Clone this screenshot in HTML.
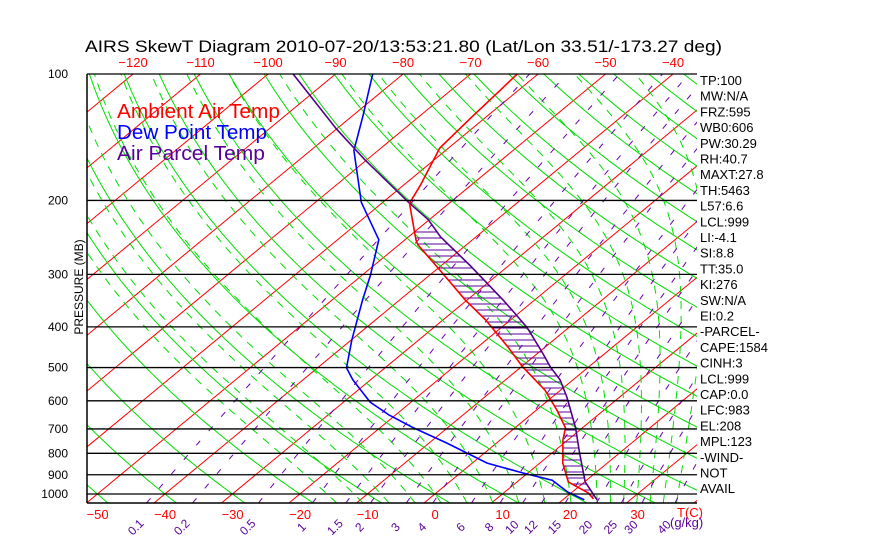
<!DOCTYPE html>
<html><head><meta charset="utf-8"><style>
html,body{margin:0;padding:0;background:#fff;}
svg{display:block;font-family:"Liberation Sans",sans-serif;}
</style></head><body>
<svg id="chart" width="870" height="560" viewBox="0 0 870 560" xmlns="http://www.w3.org/2000/svg">
<defs><clipPath id="plotclip"><rect x="87" y="74" width="610" height="429"/></clipPath></defs>
<rect x="0" y="0" width="870" height="560" fill="#fff"/>
<text x="85" y="52" font-size="17" textLength="637" lengthAdjust="spacingAndGlyphs" fill="#000">AIRS SkewT Diagram 2010-07-20/13:53:21.80 (Lat/Lon 33.51/-173.27 deg)</text>
<g id="grid" clip-path="url(#plotclip)"></g>
<g id="series" clip-path="url(#plotclip)"></g>
<g id="frame"></g>
<g id="labels"></g>
<text x="117" y="118" font-size="20" textLength="163" lengthAdjust="spacingAndGlyphs" fill="#ff0000">Ambient Air Temp</text>
<text x="117" y="139" font-size="20" textLength="150" lengthAdjust="spacingAndGlyphs" fill="#0000ff">Dew Point Temp</text>
<text x="117" y="160" font-size="20" textLength="148" lengthAdjust="spacingAndGlyphs" fill="#5a0099">Air Parcel Temp</text>
<text transform="translate(83,287) rotate(-90)" text-anchor="middle" font-size="12" fill="#000">PRESSURE (MB)</text>
<text x="677" y="517" font-size="13" fill="#ff0000">T(C)</text>
<text x="670" y="527" font-size="13" fill="#5a0099">(g/kg)</text>
</svg>
<script>
const ambientP=[1028,995,936,844,744,696,631,597,566,498,447,385,345,293,255,248,217,203,184,150,127,109,100];
const ambientT=[24.4,22.6,17.6,13.4,9.3,7.5,3.0,0.3,-2.3,-9.8,-15.5,-23.7,-30.3,-39.4,-47.2,-48.4,-53.4,-55.9,-57.5,-61.3,-62.1,-62.7,-63.1];
const dewP=[1033,989,927,891,844,756,696,649,604,535,501,430,345,301,248,202,152,126,100];
const dewT=[23.2,19.3,14.9,9.2,2.2,-7.4,-15.0,-20.9,-26.1,-32.6,-35.7,-39.9,-45.5,-48.8,-53.9,-63.2,-73.6,-78.4,-84.5];
const parcelP=[1033,936,799,696,588,535,498,459,402,371,345,285,244,222,203,160,135,100];
const parcelT=[25.1,20.1,14.1,9.0,2.2,-1.9,-5.7,-9.6,-16.1,-20.6,-24.7,-35.9,-45.3,-50.2,-55.9,-70.3,-80.1,-96.3];
const pressureTicks=[100,200,300,400,500,600,700,800,900,1000];
const bottomTempTicks=[-50,-40,-30,-20,-10,0,10,20,30];
const topTempTicks=[-120,-110,-100,-90,-80,-70,-60,-50,-40];
const mixRatios=[0.1,0.2,0.5,1,1.5,2,3,4,6,8,10,12,15,20,25,30,40];
const mixLabels=["0.1","0.2","0.5","1","1.5","2","3","4","6","8","10","12","15","20","25","30","40"];
const dryTheta=[-50,-40,-30,-20,-10,0,10,20,30,40,50,60,70,80,90,100,110,120,130,140,150,160,170,180,190];
const moistTheta=[-16,-12,-8,-4,0,4,8,12,16,20,24,26,28,30,32,34,36];
const sideLabels=["TP:100","MW:N/A","FRZ:595","WB0:606","PW:30.29","RH:40.7","MAXT:27.8","TH:5463","L57:6.6","LCL:999","LI:-4.1","SI:8.8","TT:35.0","KI:276","SW:N/A","EI:0.2","-PARCEL-","CAPE:1584","CINH:3","LCL:999","CAP:0.0","LFC:983","EL:208","MPL:123","-WIND-","NOT","AVAIL"];

const NS="http://www.w3.org/2000/svg";
const PB=1050, PT=100;
function yOf(p){return 494+182.4*Math.log(p/1000);}
function xOf(T,p){return 424+6.75*T+1.21*(503-yOf(p));}
function mk(tag,attrs,parent){const e=document.createElementNS(NS,tag);for(const k in attrs)e.setAttribute(k,attrs[k]);parent.appendChild(e);return e;}
function pathD(pts){return pts.map((q,i)=>(i?'L':'M')+q[0].toFixed(1)+','+q[1].toFixed(1)).join('');}
const grid=document.getElementById('grid'),series=document.getElementById('series'),frame=document.getElementById('frame'),labels=document.getElementById('labels');

for(let T=-160;T<=50;T+=10){
  const e=mk('line',{x1:xOf(T,PB),y1:yOf(PB),x2:xOf(T,PT),y2:yOf(PT),stroke:'#ff0000','stroke-width':1},grid);
  
  
}
dryTheta.forEach(th=>{
  const pts=[];for(let p=PB;p>=PT;p-=10){const T=(th+273.15)*Math.pow(p/1000,0.2857)-273.15;pts.push([xOf(T,p),yOf(p)]);}
  const e=mk('path',{d:pathD(pts),fill:'none',stroke:'#00dd00','stroke-width':1},grid);
  
  
});
function es(Tc){return 6.112*Math.exp(17.67*Tc/(Tc+243.5));}
function dTdp(T,p){const Tc=T-273.15;const e=es(Tc);const rs=0.622*e/(p-e);return (287*T+2.5e6*rs)/(p*(1004+2.5e6*2.5e6*rs*0.622/(287*T*T)));}
moistTheta.forEach(tw=>{
  let pts=[];let T=tw+273.15;
  for(let p=1000;p<PB;p+=5){T+=dTdp(T,p)*5;}
  for(let p=PB;p>=PT;p-=5){pts.push([xOf(T-273.15,p),yOf(p)]);T-=dTdp(T,p)*5;}
  const e=mk('path',{d:pathD(pts),fill:'none',stroke:'#00dd00','stroke-width':1,'stroke-dasharray':'8 7'},grid);
  
  
});
function tdOf(w,p){const e=w*p/(622+w);const l=Math.log(e/6.112);return 243.5*l/(17.67-l);}
mixRatios.forEach((w,i)=>{
  const pts=[];for(let p=PB;p>=PT;p-=10)pts.push([xOf(tdOf(w,p),p),yOf(p)]);
  const e=mk('path',{d:pathD(pts),fill:'none',stroke:'#6a00b0','stroke-width':1,'stroke-dasharray':'6 13'},grid);
  
  
  const x=xOf(tdOf(w,PB),PB)-8;
  const t=mk('text',{transform:`translate(${x.toFixed(1)},530) rotate(-45)`,'font-size':12,fill:'#5a0099','text-anchor':'middle'},labels);
  t.textContent=mixLabels[i];
  
  
});
pressureTicks.forEach(p=>{
  const y=yOf(p);
  const e=mk('line',{x1:87,y1:y,x2:697,y2:y,stroke:'#000','stroke-width':1.3},frame);
  
  
  const t=mk('text',{x:68,y:y+4,'font-size':12,fill:'#000','text-anchor':'end'},labels);
  t.textContent=String(p);
  
  
});
const bl=mk('line',{x1:87,y1:503,x2:697,y2:503,stroke:'#000','stroke-width':1.5},frame);


const ll=mk('line',{x1:87,y1:74,x2:87,y2:503,stroke:'#000','stroke-width':1.5},frame);


bottomTempTicks.forEach(T=>{
  const t=mk('text',{x:xOf(T,PB)+11,y:519,'font-size':13,fill:'#ff0000','text-anchor':'middle'},labels);
  t.textContent=T<0?'\u2212'+(-T):String(T);
  
  
});
topTempTicks.forEach(T=>{
  const t=mk('text',{x:xOf(T,PT),y:67,'font-size':13,fill:'#ff0000','text-anchor':'middle'},labels);
  t.textContent='\u2212'+(-T);
  
  
});
sideLabels.forEach((s,i)=>{
  const t=mk('text',{x:700,y:85+i*15.7,'font-size':13,fill:'#000'},labels);
  t.textContent=s;
  
  
});
function interp(P,T,p){
  for(let i=0;i<P.length-1;i++){const a=P[i],b=P[i+1];if((p<=a&&p>=b)){const f=Math.log(p/a)/Math.log(b/a);return T[i]+f*(T[i+1]-T[i]);}}
  return null;
}
for(let y=232;y<=498;y+=6){
  const p=1000*Math.exp((y-494)/182.4);
  const ta=interp(ambientP,ambientT,p),tp=interp(parcelP,parcelT,p);
  if(ta===null||tp===null||tp<=ta)continue;
  const e=mk('line',{x1:xOf(ta,p),y1:y,x2:xOf(tp,p),y2:y,stroke:'#5a0099','stroke-width':1},series);
  
  
}
function profile(P,T,color,name){
  const pts=P.map((p,i)=>[xOf(T[i],p),yOf(p)]);
  const e=mk('path',{d:pathD(pts),fill:'none',stroke:color,'stroke-width':1.6},series);
  
  
}
profile(dewP,dewT,'#0000ff','dewpoint-line');
profile(parcelP,parcelT,'#550088','parcel-line');
profile(ambientP,ambientT,'#ff0000','ambient-temp-line');
</script>
</body></html>
